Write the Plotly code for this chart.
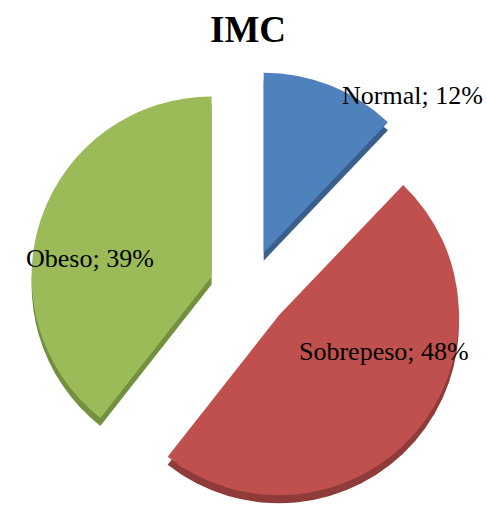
import plotly.graph_objects as go

# Data
categories = ["Normal", "Sobrepeso", "Obeso"]
percentages = [12, 48, 39]
title_text = "IMC"

# Styling
face_colors = ["#4F81BD", "#C0504D", "#9BBB59"]
side_colors = ["#3B5F8C", "#8F3B39", "#73903F"]
label_pos_px = [(412, 95), (384, 351), (90, 258)]   # label centres (px from top-left)

W, H = 487, 517
PULL = 0.22          # explode distance as a fraction of the radius
RADIUS = 180         # pie radius in px
DEPTH = 8            # thickness of the 3D side, px
CX = 249             # horizontal centre of the pie, px

r_out = RADIUS * (1 + PULL)
x_dom = [(CX - r_out) / W, (CX + r_out) / W]

def pie(colors, lift):
    # centre sits r_out + lift px above the bottom edge
    top = min(1.0, 2 * (r_out + lift) / H)
    return go.Pie(
        labels=categories,
        values=percentages,
        sort=False,
        direction="clockwise",
        rotation=0,
        pull=[PULL] * len(percentages),
        marker=dict(colors=colors, line=dict(width=0)),
        textinfo="none",
        hoverinfo="label+percent",
        showlegend=False,
        domain=dict(x=x_dom, y=[0, top]),
    )

fig = go.Figure()
fig.add_trace(pie(side_colors, 0))       # side walls, drawn first
fig.add_trace(pie(face_colors, DEPTH))   # top faces

for cat, val, (px, py) in zip(categories, percentages, label_pos_px):
    fig.add_annotation(
        text=f"{cat}; {val}%",
        x=px / W, y=1 - py / H, xref="paper", yref="paper",
        xanchor="center", yanchor="middle", showarrow=False,
        font=dict(family="Liberation Serif", size=26, color="#000000"),
    )

fig.add_annotation(
    text=f"<b>{title_text}</b>",
    x=248 / W, y=1 - 29 / H, xref="paper", yref="paper",
    xanchor="center", yanchor="middle", showarrow=False,
    font=dict(family="Liberation Serif", size=37, color="#000000"),
)

fig.update_layout(
    width=W, height=H,
    margin=dict(l=0, r=0, t=0, b=0),
    paper_bgcolor="#FFFFFF",
    plot_bgcolor="#FFFFFF",
)

fig.write_html("out.html")
